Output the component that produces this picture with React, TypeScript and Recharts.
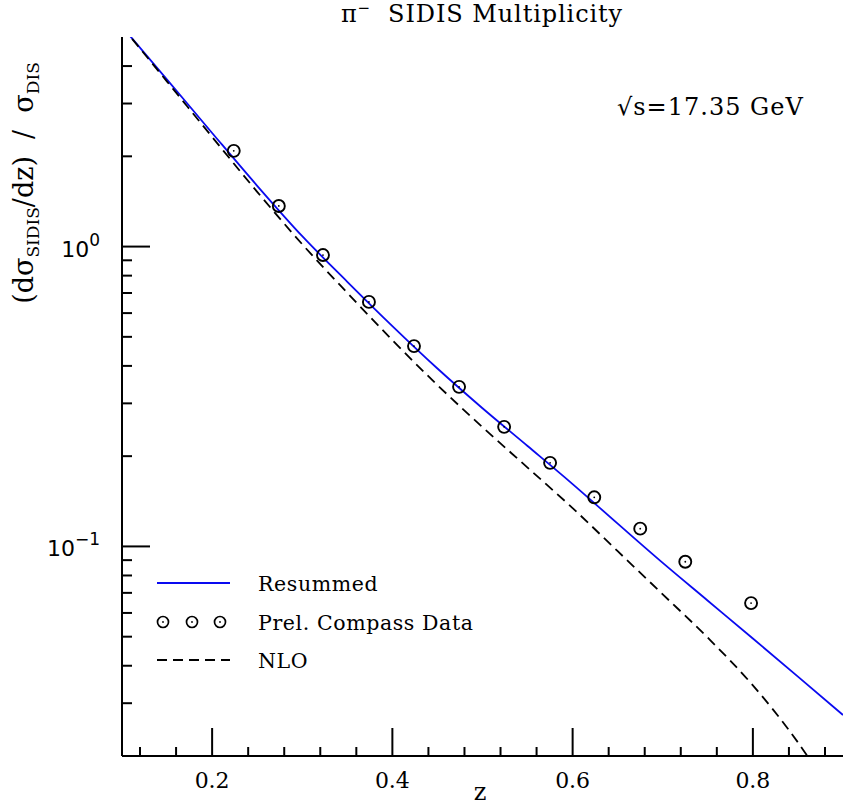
import React from 'react';
import { ComposedChart, Line, Scatter, XAxis, YAxis, Legend } from 'recharts';

// ---- data ----
const dataZ = [0.224, 0.274, 0.323, 0.374, 0.424, 0.474, 0.524, 0.575, 0.624, 0.675, 0.725, 0.798];
const dataM = [2.086, 1.366, 0.937, 0.654, 0.4656, 0.3406, 0.2505, 0.19, 0.1458, 0.1146, 0.0889, 0.0647];

const resumZ = [0.1, 0.15, 0.2, 0.25, 0.3, 0.35, 0.4, 0.45, 0.5, 0.55, 0.6, 0.65, 0.7, 0.75, 0.8, 0.85, 0.9];
const resumM = [5.42, 3.606, 2.393, 1.595, 1.083, 0.763, 0.543, 0.392, 0.289, 0.2162, 0.1614, 0.1191, 0.0881, 0.0659, 0.0493, 0.0368, 0.0274];

const nloZ = [0.1, 0.15, 0.2, 0.25, 0.3, 0.35, 0.4, 0.45, 0.5, 0.55, 0.6, 0.65, 0.7, 0.75, 0.8, 0.85, 0.875];
const nloM = [5.42, 3.55, 2.321, 1.523, 1.018, 0.7008, 0.4875, 0.3452, 0.2499, 0.1832, 0.1342, 0.0964, 0.0692, 0.0496, 0.0344, 0.0222, 0.0172];

const xMajorTicks = [0.2, 0.4, 0.6, 0.8];
const xMinorTicks = [0.12, 0.16, 0.24, 0.28, 0.32, 0.36, 0.44, 0.48, 0.52, 0.56, 0.64, 0.68, 0.72, 0.76, 0.84, 0.88];
const yMajorTicks = [0.1, 1];
const yMinorTicks = [0.03, 0.04, 0.05, 0.06, 0.07, 0.08, 0.09, 0.2, 0.3, 0.4, 0.5, 0.6, 0.7, 0.8, 0.9, 2, 3, 4];

const seriesNames = ['Resummed', 'Prel. Compass Data', 'NLO'];
const titleMain = 'SIDIS Multiplicity';
const energyLabel = '\u221As=17.35 GeV';

const dataPts = dataZ.map((z, i) => ({ z, m: dataM[i] }));
const resumPts = resumZ.map((z, i) => ({ z, m: resumM[i] }));
const nloPts = nloZ.map((z, i) => ({ z, m: nloM[i] }));
const xTicks = [...xMajorTicks, ...xMinorTicks].sort((a, b) => a - b);
const yTicks = [...yMajorTicks, ...yMinorTicks].sort((a, b) => a - b);

const BLUE = '#0a0af0';
const INK = '#000';
const SERIF = "'DejaVu Serif', serif";
const SANS = "'DejaVu Sans', sans-serif";
const serifStyle: React.CSSProperties = { fontFamily: SERIF, whiteSpace: 'pre' };
const sansStyle: React.CSSProperties = { fontFamily: SANS };

const isMajorX = (v: number) => xMajorTicks.some((t) => Math.abs(t - v) < 1e-9);
const isMajorY = (v: number) => yMajorTicks.some((t) => Math.abs(t - v) < 1e-12);

const BottomTick = (p: any) => {
  const { x, y, payload } = p;
  const major = isMajorX(payload.value);
  return (
    <g>
      <line x1={x} y1={y} x2={x} y2={y - (major ? 28 : 9)} stroke={INK} strokeWidth={2} />
      {major && (
        <text x={x} y={y + 32} textAnchor="middle" style={serifStyle} fontSize={22} fill={INK}>
          {payload.value.toFixed(1)}
        </text>
      )}
    </g>
  );
};

const TopTick = (p: any) => {
  const { x, y, payload } = p;
  const major = isMajorX(payload.value);
  return <line x1={x} y1={y} x2={x} y2={y + (major ? 28 : 9)} stroke={INK} strokeWidth={2} />;
};

const LeftTick = (p: any) => {
  const { x, y, payload } = p;
  const major = isMajorY(payload.value);
  const exp = Math.round(Math.log10(payload.value));
  return (
    <g>
      <line x1={x} y1={y} x2={x + (major ? 28 : 10)} y2={y} stroke={INK} strokeWidth={2} />
      {major && (
        <text x={x - 22} y={y + 10} textAnchor="end" style={sansStyle} fontSize={22} fill={INK}>
          <tspan>10</tspan>
          <tspan dy={-11} fontSize={17}>{exp < 0 ? '\u2212' + Math.abs(exp) : String(exp)}</tspan>
        </text>
      )}
    </g>
  );
};

const RightTick = (p: any) => {
  const { x, y, payload } = p;
  const major = isMajorY(payload.value);
  return <line x1={x} y1={y} x2={x - (major ? 28 : 10)} y2={y} stroke={INK} strokeWidth={2} />;
};

const DataDot = (p: any) => {
  const { cx, cy } = p;
  return (
    <g>
      <circle cx={cx} cy={cy} r={6} fill="none" stroke={INK} strokeWidth={1.9} />
      <circle cx={cx} cy={cy} r={0.9} fill={INK} />
    </g>
  );
};

const legendText: React.CSSProperties = { fontFamily: SERIF, letterSpacing: 0.6 };

const LegendBox = () => (
  <svg width={360} height={120} style={{ display: 'block' }}>
    <line x1={7} y1={21} x2={80} y2={21} stroke={BLUE} strokeWidth={1.8} />
    <text x={108} y={28.5} style={legendText} fontSize={20.5} fill={INK}>{seriesNames[0]}</text>
    {[13, 42, 70].map((cx) => (
      <g key={cx}>
        <circle cx={cx} cy={60} r={5.5} fill="none" stroke={INK} strokeWidth={1.7} />
        <circle cx={cx} cy={60} r={0.9} fill={INK} />
      </g>
    ))}
    <text x={108} y={67.5} style={legendText} fontSize={20.5} fill={INK}>{seriesNames[1]}</text>
    <line x1={7} y1={98} x2={80} y2={98} stroke={INK} strokeWidth={1.8} strokeDasharray="10 6" />
    <text x={108} y={105.5} style={legendText} fontSize={20.5} fill={INK}>{seriesNames[2]}</text>
  </svg>
);

export default function App() {
  return (
    <div style={{ position: 'absolute', left: 0, top: 0, width: 844, height: 806, background: '#fff' }}>
      <ComposedChart width={844} height={806} margin={{ top: 37, right: 1, bottom: 0, left: 0 }}>
        <XAxis
          dataKey="z"
          type="number"
          domain={[0.1, 0.9]}
          allowDataOverflow
          ticks={xTicks}
          interval={0}
          height={50}
          tickSize={0}
          tickMargin={0}
          tickLine={false}
          axisLine={{ stroke: INK, strokeWidth: 2 }}
          tick={<BottomTick />}
        />
        <XAxis
          xAxisId="top"
          orientation="top"
          dataKey="z"
          type="number"
          domain={[0.1, 0.9]}
          allowDataOverflow
          ticks={xTicks}
          interval={0}
          height={0}
          tickSize={0}
          tickMargin={0}
          tickLine={false}
          axisLine={{ stroke: INK, strokeWidth: 2 }}
          tick={<TopTick />}
        />
        <YAxis
          scale="log"
          type="number"
          domain={[0.02, 5]}
          allowDataOverflow
          ticks={yTicks}
          interval={0}
          width={122}
          tickSize={0}
          tickMargin={0}
          tickLine={false}
          axisLine={{ stroke: INK, strokeWidth: 2 }}
          tick={<LeftTick />}
        />
        <YAxis
          yAxisId="right"
          orientation="right"
          scale="log"
          type="number"
          domain={[0.02, 5]}
          allowDataOverflow
          ticks={yTicks}
          interval={0}
          width={0}
          tickSize={0}
          tickMargin={0}
          tickLine={false}
          axisLine={{ stroke: INK, strokeWidth: 2 }}
          tick={<RightTick />}
        />
        <Line
          data={resumPts}
          dataKey="m"
          name={seriesNames[0]}
          type="monotone"
          stroke={BLUE}
          strokeWidth={1.8}
          dot={false}
          isAnimationActive={false}
        />
        <Line
          data={nloPts}
          dataKey="m"
          name={seriesNames[2]}
          type="monotone"
          stroke={INK}
          strokeWidth={1.8}
          strokeDasharray="10 6"
          dot={false}
          isAnimationActive={false}
        />
        <Scatter
          data={dataPts}
          dataKey="m"
          name={seriesNames[1]}
          shape={<DataDot />}
          isAnimationActive={false}
        />
        <Legend
          layout="vertical"
          align="center"
          verticalAlign="middle"
          content={() => <LegendBox />}
          wrapperStyle={{ position: 'absolute', left: 150, top: 562, width: 360, height: 120 }}
        />
      </ComposedChart>
      <svg
        width={844}
        height={806}
        style={{ position: 'absolute', left: 0, top: 0, pointerEvents: 'none' }}
      >
        <text x={482} y={22} textAnchor="middle" style={{ ...serifStyle, letterSpacing: 0.9 }} fontSize={24} fill={INK}>
          <tspan>{'\u03C0'}</tspan>
          <tspan dy={-9} fontSize={15}>{'\u2212'}</tspan>
          <tspan dy={9}>{'  ' + titleMain}</tspan>
        </text>
        <text x={617} y={115} style={{ ...serifStyle, letterSpacing: 1 }} fontSize={24} fill={INK}>{energyLabel}</text>
        <text x={480} y={800} textAnchor="middle" style={serifStyle} fontSize={24} fill={INK}>z</text>
        <g transform="translate(33,183) rotate(-90)">
          <text x={0} y={0} textAnchor="middle" style={serifStyle} fontSize={27} fill={INK}>
            <tspan>(d{'\u03C3'}</tspan>
            <tspan dy={6} fontSize={17}>SIDIS</tspan>
            <tspan dy={-6}>/dz)  /  {'\u03C3'}</tspan>
            <tspan dy={6} fontSize={17}>DIS</tspan>
          </text>
        </g>
      </svg>
    </div>
  );
}
